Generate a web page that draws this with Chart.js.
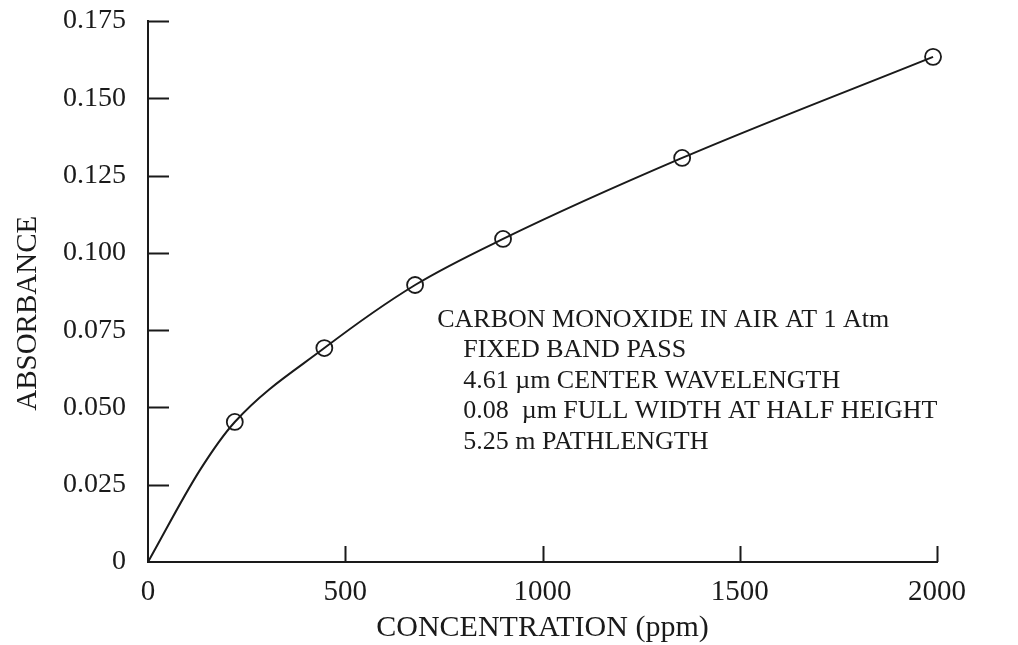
<!DOCTYPE html>
<html>
<head>
<meta charset="utf-8">
<script src="https://cdn.jsdelivr.net/npm/chart.js@4/dist/chart.umd.min.js"></script>
<style>
  html, body { margin: 0; padding: 0; background: #ffffff; }
  #wrap { width: 1018px; height: 645px; }
</style>
</head>
<body>
<div id="wrap"><canvas id="c" width="1018" height="645"></canvas></div>
<script>
// ---- data ----
// fitted curve (incl. origin)
const concentration = [0, 132, 220, 447, 677, 900, 1354, 1990];
const absorbance    = [0, 0.0298, 0.0453, 0.0692, 0.0896, 0.1045, 0.1307, 0.1634];
// measured points (circles)
const measuredX = [220, 447, 677, 900, 1354, 1990];
const measuredY = [0.0453, 0.0692, 0.0896, 0.1045, 0.1307, 0.1634];
const xTicks = [0, 500, 1000, 1500, 2000];
const yTicks = [0, 0.025, 0.05, 0.075, 0.1, 0.125, 0.15, 0.175];
const yTickLabels = ['0', '0.025', '0.050', '0.075', '0.100', '0.125', '0.150', '0.175'];
const noteLines = [
  'CARBON MONOXIDE IN AIR AT 1 Atm',
  'FIXED BAND PASS',
  '4.61 \u00b5m CENTER WAVELENGTH',
  '0.08  \u00b5m FULL WIDTH AT HALF HEIGHT',
  '5.25 m PATHLENGTH'
];
const noteIndent = [0, 1, 1, 1, 1];
const xTitle = 'CONCENTRATION (ppm)';
const yTitle = 'ABSORBANCE';

const INK = '#1a1a1a';
const SERIF = '"Liberation Serif", "Times New Roman", serif';

const curve = concentration.map((x, i) => ({ x, y: absorbance[i] }));
const points = measuredX.map((x, i) => ({ x, y: measuredY[i] }));

// inward tick marks + annotation
const decor = {
  id: 'decor',
  afterDraw(chart) {
    const { ctx, chartArea, scales } = chart;
    const xs = scales.x, ys = scales.y;
    ctx.save();
    ctx.strokeStyle = INK;
    ctx.lineWidth = 2;
    ctx.beginPath();
    yTicks.forEach(v => {
      if (v === 0) return;
      const py = Math.round(ys.getPixelForValue(v)) + 0.5;
      ctx.moveTo(chartArea.left, py);
      ctx.lineTo(chartArea.left + 21, py);
    });
    xTicks.forEach(v => {
      if (v === 0) return;
      const px = Math.round(xs.getPixelForValue(v)) + 0.5;
      ctx.moveTo(px, chartArea.bottom);
      ctx.lineTo(px, chartArea.bottom - 16);
    });
    ctx.stroke();

    // annotation text
    ctx.fillStyle = INK;
    ctx.font = '26px ' + SERIF;
    ctx.textAlign = 'left';
    ctx.textBaseline = 'middle';
    const x0 = xs.getPixelForValue(733);
    const y0 = ys.getPixelForValue(0.0783);
    noteLines.forEach((t, i) => {
      ctx.fillText(t, x0 + noteIndent[i] * 26, y0 + i * 30.5);
    });
    ctx.restore();
  }
};

new Chart(document.getElementById('c'), {
  type: 'scatter',
  data: {
    datasets: [
      {
        label: 'fit',
        data: curve,
        showLine: true,
        cubicInterpolationMode: 'monotone',
        clip: false,
        borderColor: INK,
        borderWidth: 2,
        pointRadius: 0,
        pointHoverRadius: 0,
        fill: false
      },
      {
        label: 'measured',
        data: points,
        showLine: false,
        clip: false,
        pointRadius: 8,
        pointHoverRadius: 8,
        pointBorderWidth: 1.8,
        pointBorderColor: INK,
        pointBackgroundColor: 'rgba(0,0,0,0)'
      }
    ]
  },
  plugins: [decor],
  options: {
    responsive: false,
    animation: false,
    events: [],
    layout: { padding: { left: 0, right: 81, top: 21, bottom: 0 } },
    plugins: { legend: { display: false }, tooltip: { enabled: false } },
    scales: {
      x: {
        type: 'linear',
        min: 0,
        max: 2000,
        afterFit(scale) { scale.height = 83; },
        afterBuildTicks(scale) { scale.ticks = xTicks.map(v => ({ value: v })); },
        grid: { display: false, drawTicks: false },
        border: { display: true, color: INK, width: 2 },
        ticks: {
          padding: 13,
          color: INK,
          font: { family: SERIF, size: 29 },
          maxRotation: 0,
          callback: v => String(v)
        },
        title: {
          display: true,
          text: xTitle,
          color: INK,
          font: { family: SERIF, size: 30, lineHeight: 1 },
          padding: { top: 0, bottom: 2 }
        }
      },
      y: {
        type: 'linear',
        min: 0,
        max: 0.175,
        afterFit(scale) { scale.width = 148; scale.paddingTop = 0; scale.paddingBottom = 0; },
        afterBuildTicks(scale) { scale.ticks = yTicks.map(v => ({ value: v })); },
        grid: { display: false, drawTicks: false },
        border: { display: true, color: INK, width: 2 },
        ticks: {
          padding: 22,
          color: INK,
          font: { family: SERIF, size: 28 },
          callback: (v) => {
            const i = yTicks.findIndex(t => Math.abs(t - v) < 1e-9);
            return i >= 0 ? yTickLabels[i] : '';
          }
        },
        title: {
          display: true,
          text: yTitle + '      ',
          color: INK,
          font: { family: SERIF, size: 29, lineHeight: 1 },
          padding: { top: 14, bottom: 0 }
        }
      }
    }
  }
});
</script>
</body>
</html>
